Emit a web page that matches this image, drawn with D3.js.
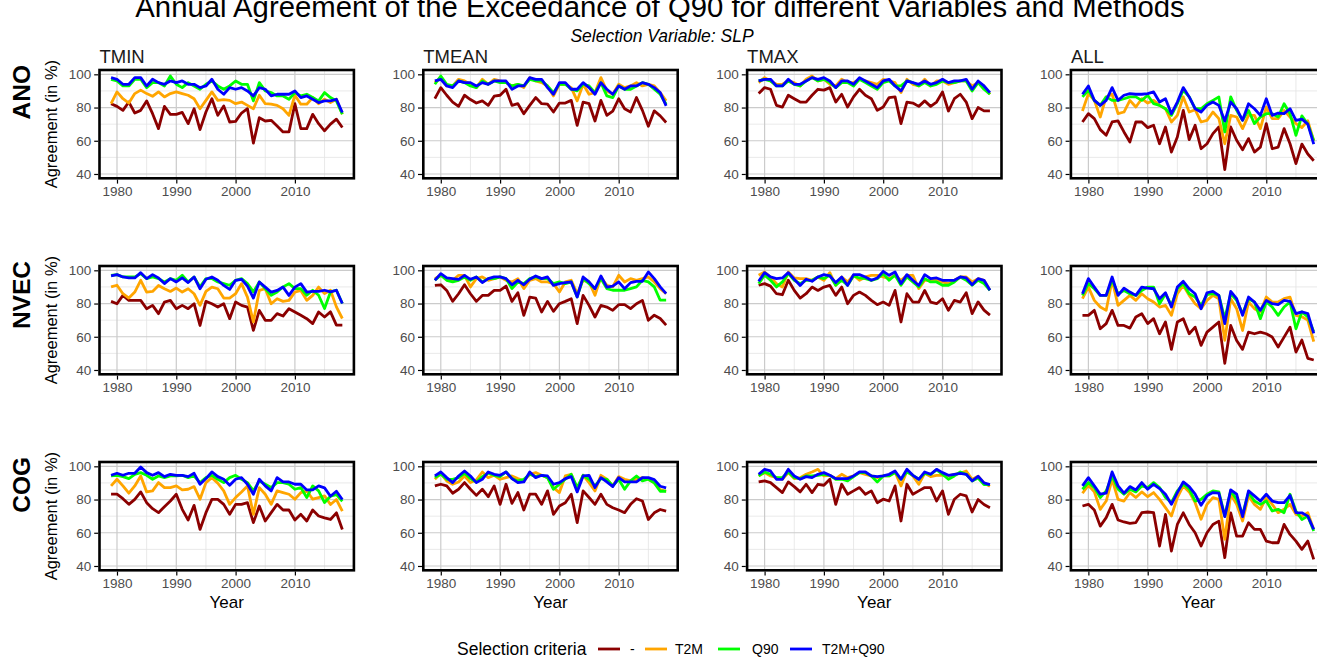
<!DOCTYPE html>
<html><head><meta charset="utf-8">
<script src="https://cdn.jsdelivr.net/npm/d3@7"></script>
<style>
body{margin:0;background:#fff}
svg{display:block}
text{font-family:"Liberation Sans",Arial,sans-serif}
</style>
</head><body><svg id="chart" width="1317" height="661"></svg>
<script>
const years = [1979,1980,1981,1982,1983,1984,1985,1986,1987,1988,1989,1990,1991,1992,1993,1994,1995,1996,1997,1998,1999,2000,2001,2002,2003,2004,2005,2006,2007,2008,2009,2010,2011,2012,2013,2014,2015,2016,2017,2018];
const methods = ["ANO","NVEC","COG"];
const variables = ["TMIN","TMEAN","TMAX","ALL"];
const criteria = ["-","T2M","Q90","T2M+Q90"];
const criteriaColors = ["#8B0000","#FFA500","#00FF00","#0000FF"];
const yTickValues = [40,60,80,100];
const xTickValues = [1980,1990,2000,2010];

// ANO
const ano_tmin_none = [82.3,80.7,78.3,83.3,76.7,78.3,84,76.3,67.3,80.7,75.9,75.9,77.1,70.3,79.3,66.7,77.3,85.3,75.3,81,71.3,71.7,76.7,79.3,58.6,73.9,71.9,72.3,68.9,65.3,65.3,82.3,67.3,67.3,75.9,70.3,66,70,73,68];
const ano_tmin_t2m = [82.3,89.4,85.3,82.7,88.4,90.5,88.4,86.8,89.4,86.4,88.4,89.4,88.4,87.4,85.3,79.3,84.3,89.4,84.3,84.7,84.3,82.3,83.3,81.3,79.3,87.4,82.3,82,81.3,79.3,75.3,87.4,82,82,86,82.3,85,83,85,76];
const ano_tmin_q90 = [97,96,93,93,97,97,92,95,95,93,99,94,92,95,93,91,94,96,93,91,93,96,94,94,84,95,90,89,87,87,85,89,87,88,86,84,89,86,84,76];
const ano_tmin_t2mq90 = [98,97,94,94,98,98,93,97,95,94,96,95,96,94,94,92,93,97,91,88,92,91,92,90,87,92,91,87,88,88,88,90,86,87,85,83,84,84,85,77];
const ano_tmean_none = [85.4,92,87.4,83.3,80.7,87.4,84.8,82.7,84,81.3,86.8,87.4,91,81.3,82.3,76.3,81.3,86,82.3,82,77.3,82.7,82.7,84.3,69.3,83.3,82.3,71.9,84.3,75.3,77.9,85.3,79.3,77.3,86,78.3,68.7,78,75,71];
const ano_tmean_t2m = [95,98,93,93,97,96,94,92,97,94,97,96,95,93,94,92,98,96,95,93,87,94,94,92,84,94,88,89,98,90,88,94,92,93,95,93,94,93,89,84];
const ano_tmean_q90 = [94,99,94,93,96,95,93,92,96,94,96,95,95,93,94,93,97,96,96,93,89,94,94,91,90,94,93,89,95,87,86,93,91,91,93,95,94,91,88,82];
const ano_tmean_t2mq90 = [96,97,93,92,96,95,95,93,95,94,96,96,96,91,93,93,98,97,97,92,88,95,95,91,91,95,92,88,95,91,88,93,91,93,93,95,94,92,89,81];
const ano_tmax_none = [88.4,92,91,81.3,80.3,87.4,85.3,83.3,83.3,87.4,91,90.5,92,83.3,88,80.3,86.4,91,87.4,85.3,78.3,80.3,86,86.4,70.3,83.3,82.7,80.7,84,80.7,83.3,89.4,77.9,85.3,88,83.3,73.3,80,78,78];
const ano_tmax_t2m = [95,98,96,94,94,96,95,93,97,99,96,97,94,93,97,95,95,97,96,95,94,97,96,95,89,97,94,93,97,93,96,96,94,95,96,96,93,95,93,88];
const ano_tmax_q90 = [96,97,96,93,93,96,94,93,96,98,96,97,95,92,95,95,93,97,95,93,91,95,96,93,93,96,95,93,95,93,94,96,95,95,96,96,90,95,91,88];
const ano_tmax_t2mq90 = [96,97,97,93,93,97,94,94,96,98,97,98,96,92,96,96,94,98,96,94,92,96,97,93,90,96,95,94,96,94,95,97,95,96,96,97,91,96,93,89];
const ano_all_none = [71.3,76.3,73.3,66.7,63.3,71.3,71.9,65.3,59.3,71.3,71.3,67.9,69.3,58.2,68.3,53.2,62.3,78.3,60.7,69.3,55.2,58.2,64.3,68.3,42.6,68.3,60.3,54.6,61.3,53.2,56.2,70.3,55.2,56.2,67.3,58.2,46.2,58,52,48];
const ano_all_t2m = [77.9,88.4,84.3,74.3,86.4,88,76.3,77.3,84.3,80.3,85.3,82.7,84.3,81.3,79.3,71.3,75.3,86.4,77.3,78.7,71.3,72.3,77.3,73.3,58.2,75.3,74.3,67.3,75.3,75.3,67.3,80.3,73.3,73.3,78.3,74.3,70.3,68,72,60];
const ano_all_q90 = [86.4,90.4,84.3,81.3,86.4,84.3,84.3,85.3,86.4,86.4,84.3,87.4,82.3,81.3,79.3,75.3,82.3,90.4,86.4,79.3,79.3,82.3,84.3,86.4,65.3,86.4,78.3,72.3,78.3,70.3,74.3,76.3,76.3,74.3,82.3,76.3,63.3,75,70,60];
const ano_all_t2mq90 = [88,93,84.3,81.3,84.3,92,84.3,87.4,88.4,88,88,88.4,89.4,83.3,85.3,76.3,83.3,92,86.4,79.3,77.3,81.3,83.3,81.3,71.9,83.3,79.3,72.3,82.3,79.3,75.3,85.3,75.3,76.7,76.3,79.3,72.3,73,70,58];

// NVEC
const nvec_tmin_none = [81.3,79.9,84.9,81.9,81.9,81.9,76.9,78.9,73.9,80.9,81.9,76.9,78.9,76.9,79.9,66.8,81.3,79.9,77.9,79.9,70.9,80.9,78.9,77.9,63.8,75.9,69.9,69.9,73.9,72.5,76.9,74.9,72.9,70.9,67.9,74.9,71.9,75,67,67];
const nvec_tmin_t2m = [90,91,85.9,83.3,86.9,94,86.9,87.3,90.9,88.9,87.3,89.3,86.9,88.9,85.9,78.9,87.3,89.9,88.9,83.3,83.3,85.9,92,83.9,68.9,87.9,88.9,79.9,82.9,81.3,81.9,86.9,87.9,81.9,84.9,89.9,86,88,78,71];
const nvec_tmin_q90 = [97,97.4,96,96,96,98,95,96,95,93,95,94,97,93,96,90,95,95,93,92,91,94,95,92,87,93,89,85,87,90,92,89,89,85,88,85,77,87,88,80];
const nvec_tmin_t2mq90 = [96.6,97.4,96,95.4,95.4,98.6,95,97.4,95.4,92,95,93,95.4,92.6,96,88.9,94.6,96,94,90.9,88.5,94,94.6,90.5,83.3,93,89.9,86.9,87.9,89.9,84.9,89.9,92,86.9,87.3,87.3,88,87,88,80];
const nvec_tmean_none = [90.9,91.3,87.9,81.3,85.9,91.3,85.9,81.3,84.9,84.9,87.9,87.9,90.5,81.3,86.5,72.9,83.9,83.3,74.9,81.3,75.3,79.9,81.3,82.9,67.9,84.9,78.9,71.9,78.9,77.9,75.9,79.3,79.3,76.9,79.9,81.9,69.9,73,71,67];
const nvec_tmean_t2m = [95,97,95,94,97,97,90,95,96,94,95,96,94,93,95,89,94,95,93,93,92,87,93,94,86,94,93,85,96,91,90,97,93,95,94,95,96,93,89,86];
const nvec_tmean_q90 = [94,97,94,93,94,96,94,96,93,95,95,96,95,89,93,92,95,96,95,95,92,93,92,93,84,95,92,89,95,89,88,88,88,89,90,94,93,90,82,82];
const nvec_tmean_t2mq90 = [94,98,95.4,95,94.6,97,94.6,96,92.6,95,96,96,95,91.3,94,91.3,94.6,96.6,95,96,90.9,92,92.6,93,83.9,96,93,88.9,96.6,89.9,90.5,93,88.9,92.6,93.4,93.4,99,95,90,86];
const nvec_tmax_none = [91,92,90.5,85.9,85.3,94,87.9,83.3,85.9,89.9,87.9,89.9,90.9,84.9,89.9,79.9,84.9,86.9,84.9,81.9,79.3,80.9,78.9,87.9,68.9,85.9,80.9,80.9,87.9,80.9,79.9,82.9,75.9,81.9,80.9,86.5,73.9,81,76,73];
const nvec_tmax_t2m = [97,99,96,92,90,99,95.4,95,95,94,96,94,98.6,91,96,93,97,94,96,97,97,96,95,97,94,97,97,89,94,94,94,93,92,94,96,96,93,95,94,88];
const nvec_tmax_q90 = [92,97,94,90,93,98,94,92,94,94,96,95,97,91,94,91,96.6,95.4,95,94,95,98,94,97,91,96,93,90,95,93,93,91,91,93,96,94,91,94,92,88];
const nvec_tmax_t2mq90 = [93.4,98.6,96,95,95.4,98.6,94.6,90.9,94.6,93.4,96,97.4,96.6,92.6,96,90.9,97.4,97.4,96,94,95.4,99.4,97,99,92,97.4,94,90.9,97.4,95,95.4,94,94,94,96,95.4,91.3,95,94,88];
const nvec_all_none = [72.9,72.9,75.9,64.8,67.9,75.9,66.8,66.8,65.2,71.9,73.9,67.9,70.9,61.8,68.9,52.4,68.9,70.9,61.8,65.8,54.8,62.8,65.8,68.9,44,66.8,57.8,52.4,62.8,61.8,62.8,61.8,59.8,53.8,59.8,65.8,50.8,58,47,46];
const nvec_all_t2m = [82.9,89.9,81.9,77.9,75.9,94,78.9,81.9,84.9,81.9,85.9,82.9,80.9,77.9,78.9,72.9,85.9,90.9,84.9,79.9,76.9,81.9,84.9,82.9,57.8,82.9,76.9,63.8,80.9,76.9,74.9,83.9,80.9,80.9,82.9,83.9,72.9,72,70,57];
const nvec_all_q90 = [84.9,92,88.9,84.9,84.9,94,85.9,87.9,85.9,84.9,87.9,89.9,89.9,79.9,85.9,78.9,88.9,91.9,85.9,83.9,78.9,85.3,85.9,84.9,70.9,85.9,81.9,73.9,82.9,80.9,70.9,80.9,77.9,72.9,77.9,80.9,64.8,75,72,63];
const nvec_all_t2mq90 = [85.9,95,89.9,84.9,84.9,96,84.9,89.3,86.9,84.9,89.9,89.3,88.9,82.9,86.5,77.9,89.9,93.4,88.9,85.9,76.9,86.5,87.3,84.9,67.9,87.3,82.9,72.9,83.9,80.9,75.9,81.9,79.9,79.3,81.9,81.3,73.9,75,74,62];

// COG
const cog_tmin_none = [83.2,83.2,80.5,77.1,80.1,84.6,78.1,74.5,72.1,75.7,79.1,83.2,74.1,67.7,76.5,62,72.1,80.1,80.1,77.1,71.1,77.1,77.1,78.1,66.1,76.1,67.1,72.1,77.1,73.7,73.7,67.7,71.1,67.1,73.7,70.1,69,68,72,62];
const cog_tmin_t2m = [88.2,92.2,88.2,83.8,88.2,94.2,84.6,85.2,90.2,87.2,87.2,88.2,85.8,86.2,87.8,80.2,90.2,93.2,89.8,85.2,77.1,81.2,84.6,88.2,71.1,87.2,83.2,77.1,85.2,84.2,83.2,80.2,84.2,85.2,80.2,81.2,82.2,77,80,73];
const cog_tmin_q90 = [94.2,94.6,93.8,92.6,95.2,96.2,94.6,92.2,94.2,93.2,94.2,94.2,94.6,93.2,94.2,90.2,93.2,94.6,92.2,90.2,93.2,94.6,92.2,90.2,85.2,91.2,89.2,87.2,90.2,90.2,89.2,86.2,87.2,81.2,88.2,85.2,78.2,82,83,79];
const cog_tmin_t2mq90 = [94.6,95.8,94.6,95.8,95.8,99.6,96.2,94.6,96.2,93.8,95.2,94.6,94.6,93.8,95.8,89.2,92.6,96.6,93.8,92.2,88.6,92.2,93.2,89.2,83.2,92.2,88.2,85.2,93.2,90.6,90.6,89.2,89.2,85.8,85.8,88.2,87,82,85,80];
const cog_tmean_none = [88.2,89.2,88.2,83.8,86.2,90.2,86.2,82.5,86.2,81.7,88.2,77.1,89.2,77.7,84.2,73.7,83.2,83.2,77.1,85.2,71.1,76.1,78.1,83.2,66.1,85.2,81.2,77.1,83.2,77.1,75.1,73.7,72.1,77.1,80.5,79.1,68,72,74,73];
const cog_tmean_t2m = [92.2,95.8,91.2,89.2,90.6,94.2,90.2,91.8,96.6,93.2,94.6,92.2,93.2,94.2,92.6,91.2,95.2,96.2,94.6,93.2,87.2,84.2,94.2,95.2,86.2,94.6,90.2,85.2,94.6,92.2,88.2,93.8,92.2,91.2,92.2,93.2,92.2,90,86,85];
const cog_tmean_q90 = [93.2,95.2,92.2,92.2,93.2,95.8,92.6,90.6,93.8,95.8,94.6,93.8,96.6,92.6,91.2,92.2,95.2,93.8,94.6,93.2,86.2,89.2,92.2,95.2,87.2,94.6,92.2,88.2,92.6,92.2,88.2,92.2,86.2,91.2,94.2,91.2,92.2,90,85,85];
const cog_tmean_t2mq90 = [94.2,96.6,93.2,90.2,94.2,97.2,94.2,90.2,92.2,96.6,95.2,94.6,96.6,92.6,90.2,90.6,96.6,93.2,94.6,94.2,89.2,90.2,92.6,93.8,84.6,94.2,94.6,87.2,93.2,90.6,87.8,93.2,90.6,90.6,90.6,93.2,93.2,92,88,87];
const cog_tmax_none = [90.6,91.2,90.2,87.2,84.2,90.6,87.8,84.6,89.2,84.2,89.2,88.6,92.2,77.1,89.2,83.2,85.2,87.2,83.2,85.2,78.1,80.2,79.1,88.2,67.1,89.2,83.2,85.2,87.2,87.2,79.1,85.2,71.1,80.2,83.2,82.2,72.5,80,77,75];
const cog_tmax_t2m = [94.2,96.2,94.2,93.2,92.2,96.2,92.6,93.2,95.2,96.6,98.2,94.2,94.6,92.6,95.2,93.2,94.2,96.2,95.2,94.2,93.2,94.2,94.2,96.6,88.2,97.2,94.2,89.2,95.8,93.8,94.6,94.6,94.2,95.2,95.8,97.2,92.2,94,90,88];
const cog_tmax_q90 = [94.2,96.6,95.2,93.2,93.2,96.6,93.2,92.6,94.2,94.2,94.6,95.2,94.6,92.2,92.2,91.2,93.8,96.2,96.2,94.2,90.6,94.2,94.2,96.2,92.2,96.6,94.6,92.2,95.8,95.2,97.8,95.2,92.2,94.2,96.6,95.2,91.2,93,89,89];
const cog_tmax_t2mq90 = [95.2,98.2,97.2,92.2,92.2,98.2,94.2,92.2,93.8,93.2,95.2,96.2,94.6,92.6,92.6,92.6,94.2,96.6,96.6,94.2,93.8,94.2,95.2,97.2,92.2,98.2,94.6,92.2,96.6,95.2,98.2,96.2,94.6,95.2,95.8,95.2,91.2,94,90,89];
const cog_all_none = [76.1,77.1,73.7,64,69.1,77.1,67.7,66.5,65.7,66.1,72.1,72.5,72.1,52,71,49,65,72,65,60,52,60,65,67,45,72,58,58,66,62,62,55,54,54,65,59,55,50,55,44];
const cog_all_t2m = [83.8,88.6,84.6,74.1,79.1,92.2,80.1,79.1,84.2,81.2,84.6,81.7,84.2,80.1,75.1,70.1,81.2,88.2,84.6,78.1,68.1,77.1,81.2,80.1,56,83.2,77.1,67.1,82.2,77.1,74.1,81.2,77.1,72.1,74.1,77.1,71.1,70,72,62];
const cog_all_q90 = [86.2,90.2,87.2,81.2,85.2,94.2,86.2,83.2,86.2,84.6,88.2,87.2,90.2,87.2,81.2,78.1,85.2,89.2,86.2,79.1,80.1,83.2,85.2,84.6,70.1,85.2,80.1,71.1,84.2,79.1,77.1,79.1,73.1,74.1,72.1,83.2,73.1,68,70,61];
const cog_all_t2mq90 = [88.2,93.2,88.2,83.2,83.8,96.6,88.2,83.8,87.8,85.8,90.2,86.2,89.2,86.6,83.2,77.1,84.2,90.6,87.8,83.2,76.5,82.2,84.2,83.8,69.7,85.8,83.2,69.7,85.2,82.2,79.1,83.2,79.1,78.1,78.1,82.5,72.1,72,70,62];

const panelData = {
  ANO:  {TMIN:[ano_tmin_none,ano_tmin_t2m,ano_tmin_q90,ano_tmin_t2mq90], TMEAN:[ano_tmean_none,ano_tmean_t2m,ano_tmean_q90,ano_tmean_t2mq90], TMAX:[ano_tmax_none,ano_tmax_t2m,ano_tmax_q90,ano_tmax_t2mq90], ALL:[ano_all_none,ano_all_t2m,ano_all_q90,ano_all_t2mq90]},
  NVEC: {TMIN:[nvec_tmin_none,nvec_tmin_t2m,nvec_tmin_q90,nvec_tmin_t2mq90], TMEAN:[nvec_tmean_none,nvec_tmean_t2m,nvec_tmean_q90,nvec_tmean_t2mq90], TMAX:[nvec_tmax_none,nvec_tmax_t2m,nvec_tmax_q90,nvec_tmax_t2mq90], ALL:[nvec_all_none,nvec_all_t2m,nvec_all_q90,nvec_all_t2mq90]},
  COG:  {TMIN:[cog_tmin_none,cog_tmin_t2m,cog_tmin_q90,cog_tmin_t2mq90], TMEAN:[cog_tmean_none,cog_tmean_t2m,cog_tmean_q90,cog_tmean_t2mq90], TMAX:[cog_tmax_none,cog_tmax_t2m,cog_tmax_q90,cog_tmax_t2mq90], ALL:[cog_all_none,cog_all_t2m,cog_all_q90,cog_all_t2mq90]}
};

// ---------- layout ----------
const svg = d3.select("#chart");
const colLeft = [99.5, 423.3, 747.1, 1070.9];
const rowTop = [70, 266, 462];
const PW = 254.4, PH = 108.3;

const x = d3.scaleLinear().domain([1977.05, 2019.95]).range([0, PW]);
const y = d3.scaleLinear().domain([37.4, 102.6]).range([PH, 0]);
const minorX = [1985,1995,2005,2015];
const minorY = [50,70,90];

// Title & subtitle
svg.append("text").attr("x", 660).attr("y", 17).attr("text-anchor","middle")
  .attr("font-size", 29.3).attr("fill","#000")
  .text("Annual Agreement of the Exceedance of Q90 for different Variables and Methods");
svg.append("text").attr("x", 662).attr("y", 42).attr("text-anchor","middle")
  .attr("font-size", 17.5).attr("font-style","italic").attr("fill","#000")
  .text("Selection Variable: SLP");

const line = d3.line().x((d,i)=>x(years[i])).y(d=>y(d));

methods.forEach((m, r) => {
  const cy = rowTop[r] + PH/2;
  svg.append("text").attr("transform", `translate(30,${rowTop[r] - 5}) rotate(-90)`)
    .attr("text-anchor","end").attr("font-size", 24.5).attr("font-weight","bold")
    .text(m);
  svg.append("text").attr("transform", `translate(57,${cy}) rotate(-90)`)
    .attr("text-anchor","middle").attr("font-size", 16.5).attr("fill","#000")
    .text("Agreement (in %)");

  variables.forEach((v, c) => {
    const g = svg.append("g").attr("transform", `translate(${colLeft[c]},${rowTop[r]})`);
    const clipId = `clip-${r}-${c}`;
    g.append("clipPath").attr("id", clipId).append("rect").attr("width", PW).attr("height", PH);
    g.append("rect").attr("width", PW).attr("height", PH).attr("fill", "#fff");
    g.selectAll(".mgx").data(minorX).join("line")
      .attr("x1", d=>x(d)).attr("x2", d=>x(d)).attr("y1",0).attr("y2",PH)
      .attr("stroke","#e3e3e3").attr("stroke-width",0.8);
    g.selectAll(".mgy").data(minorY).join("line")
      .attr("y1", d=>y(d)).attr("y2", d=>y(d)).attr("x1",0).attr("x2",PW)
      .attr("stroke","#e3e3e3").attr("stroke-width",0.8);
    g.selectAll(".Mgx").data(xTickValues).join("line")
      .attr("x1", d=>x(d)).attr("x2", d=>x(d)).attr("y1",0).attr("y2",PH)
      .attr("stroke","#cbcbcb").attr("stroke-width",1.2);
    g.selectAll(".Mgy").data(yTickValues).join("line")
      .attr("y1", d=>y(d)).attr("y2", d=>y(d)).attr("x1",0).attr("x2",PW)
      .attr("stroke","#cbcbcb").attr("stroke-width",1.2);
    const series = panelData[m][v];
    g.append("g").attr("clip-path", `url(#${clipId})`)
      .selectAll("path").data(series).join("path")
      .attr("d", d => line(d))
      .attr("fill","none")
      .attr("stroke", (d,i)=>criteriaColors[i])
      .attr("stroke-width", 2.8)
      .attr("stroke-linejoin","round");
    g.append("rect").attr("width", PW).attr("height", PH)
      .attr("fill","none").attr("stroke","#000").attr("stroke-width",2.6);
    const ya = g.append("g").call(d3.axisLeft(y).tickValues(yTickValues).tickSize(4).tickPadding(3));
    ya.select(".domain").remove();
    ya.selectAll(".tick line").attr("stroke","#000").attr("stroke-width",1.2).attr("transform","translate(-1.3,0)");
    ya.selectAll(".tick text").attr("fill","#4D4D4D").attr("font-size",13.5)
      .attr("font-family","Liberation Sans, Arial, sans-serif").attr("dx","-1.3");
    const xa = g.append("g").attr("transform", `translate(0,${PH})`)
      .call(d3.axisBottom(x).tickValues(xTickValues).tickFormat(d3.format("d")).tickSize(4).tickPadding(4));
    xa.select(".domain").remove();
    xa.selectAll(".tick line").attr("stroke","#000").attr("stroke-width",1.2).attr("transform","translate(0,1.3)");
    xa.selectAll(".tick text").attr("fill","#4D4D4D").attr("font-size",13.5)
      .attr("font-family","Liberation Sans, Arial, sans-serif");
    if (r === 0) {
      svg.append("text").attr("x", colLeft[c]).attr("y", rowTop[0] - 7)
        .attr("font-size", 18.5).attr("fill","#1a1a1a").text(v);
    }
    if (r === methods.length - 1) {
      svg.append("text").attr("x", colLeft[c] + PW/2).attr("y", rowTop[r] + PH + 38)
        .attr("text-anchor","middle").attr("font-size", 17).attr("fill","#000").text("Year");
    }
  });
});

// Legend
const leg = svg.append("g").attr("transform","translate(0,649)");
leg.append("text").attr("x", 457).attr("y", 6).attr("font-size", 17.5).attr("fill","#000").text("Selection criteria");
const keyX = [598, 645, 718, 790];
const labX = [630, 675, 752, 822];
criteria.forEach((cName, i) => {
  leg.append("line").attr("x1", keyX[i]).attr("x2", keyX[i] + 22).attr("y1", 0).attr("y2", 0)
    .attr("stroke", criteriaColors[i]).attr("stroke-width", 2.8);
  leg.append("text").attr("x", labX[i]).attr("y", 5).attr("font-size", 14).attr("fill","#000").text(cName);
});
</script>
</body></html>
